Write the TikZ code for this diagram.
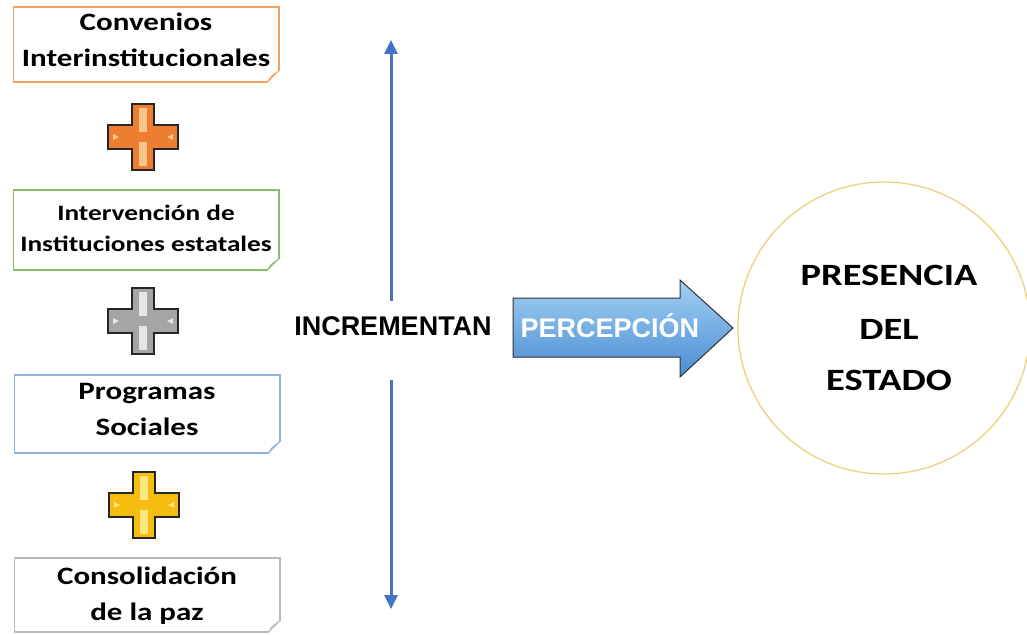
\documentclass[tikz,border=0pt]{standalone}
\usepackage{fontspec}
\setmainfont[FakeStretch=1.24]{Carlito}
\newfontfamily\arialb{Liberation Sans}
\usetikzlibrary{arrows.meta,calc}
\definecolor{cOrange}{HTML}{ED7D31}
\definecolor{cOrangeL}{HTML}{FAC58A}
\definecolor{cGray}{HTML}{A5A5A5}
\definecolor{cGrayL}{HTML}{E6E6E6}
\definecolor{cYellow}{HTML}{F5BD10}
\definecolor{cYellowL}{HTML}{FFE680}
\definecolor{bOrange}{HTML}{F4A061}
\definecolor{bGreen}{HTML}{8DBB6A}
\definecolor{bBlue}{HTML}{8CB3DE}
\definecolor{bGray}{HTML}{B8B8B8}
\definecolor{vBlue}{HTML}{4472C4}
\definecolor{circY}{HTML}{E8D37C}
\definecolor{arrTop}{HTML}{A3D0F3}
\definecolor{arrBot}{HTML}{4A8CD2}
\tikzset{
  itembox/.style={draw=#1, line width=1.1pt, fill=white, minimum width=265pt, inner sep=0pt},
  boxtext/.style={align=center, inner sep=0pt, font=\fontsize{25}{36}\selectfont\bfseries, text=black},
  boxtextsmall/.style={boxtext, font=\fontsize{22}{31}\selectfont\bfseries},
  varrow/.style={draw=vBlue, line width=3pt, -{Triangle[width=13pt,length=14pt]}},
  bigword/.style={font=\arialb\fontsize{27}{30}\selectfont\bfseries},
}
\newcommand\foldcorner[2]{%
  \fill[white] ($(#1.south east)+(1,1)$) -- ($(#1.south east)+(-13,1)$) -- ($(#1.south east)+(1,-13)$) -- cycle;
  \draw[#2, line width=1.1pt] ($(#1.south west)$) -- ($(#1.south east)+(-12,0)$);
  \draw[#2, line width=1.1pt] ($(#1.north east)$) -- ($(#1.south east)+(0,-12)$);
  \filldraw[draw=#2, fill=#2!40, line width=0.8pt] ($(#1.south east)+(-12,0)$) -- ($(#1.south east)+(0,-12)$)
     -- ($(#1.south east)+(-8,-6)$) -- cycle;}
\newcommand\plusmark[4]{% x, y, main, light
  \begin{scope}[shift={(#1,#2)}]
  \filldraw[draw=black!85, line width=1.2pt, fill=#3]
    (-11,-33) -- (11,-33) -- (11,-12) -- (35,-12) -- (35,12) -- (11,12) -- (11,33) -- (-11,33)
    -- (-11,12) -- (-35,12) -- (-35,-12) -- (-11,-12) -- cycle;
  \fill[#4] (-4,-29) rectangle (4,-5);
  \fill[#4] (-4,5) rectangle (4,29);
  \fill[#4] (-30,-3) -- (-24,0) -- (-30,3) -- cycle;
  \fill[#4] (30,-3) -- (24,0) -- (30,3) -- cycle;
  \end{scope}}
\begin{document}
\begin{tikzpicture}[x=1pt,y=-1pt]
\useasboundingbox (0,0) rectangle (1027,634);
\fill[white] (0,0) rectangle (1027,634);

% boxes
\node[itembox=bOrange, minimum height=75pt] (b1) at (146,44.5) {};
\foldcorner{b1}{bOrange}
\node[boxtext] (t1) at (146,40) {Convenios\\Interinstitucionales};
\node[itembox=bGreen, minimum height=80pt] (b2) at (146,230) {};
\foldcorner{b2}{bGreen}
\node[boxtextsmall] (t2) at (146,228) {Intervención de\\Instituciones estatales};
\node[itembox=bBlue, minimum height=78pt] (b3) at (147,414) {};
\foldcorner{b3}{bBlue}
\node[boxtext] (t3) at (147,409) {Programas\\Sociales};
\node[itembox=bGray, minimum height=74pt] (b4) at (147,595) {};
\foldcorner{b4}{bGray}
\node[boxtext] (t4) at (147,596) {Consolidación\\de la paz};

% plus signs
\plusmark{143}{137}{cOrange}{cOrangeL}
\plusmark{143}{321}{cGray}{cGrayL}
\plusmark{144}{505}{cYellow}{cYellowL}

% central label and vertical arrows
\node[bigword, text=black] (inc) at (393,326) {INCREMENTAN};
\coordinate (vtop) at (391,40);
\coordinate (vbot) at (391,609);
\draw[varrow] ($(inc.north)+(-2,-12)$) -- (vtop);
\draw[varrow] ($(inc.south)+(-2,41)$) -- (vbot);

% PERCEPCION arrow
\filldraw[draw=black!80, line width=1pt, top color=arrTop, bottom color=arrBot]
  (513,298) -- (680,298) -- (680,280) -- (733,328) -- (680,377) -- (680,357) -- (513,357) -- cycle;
\node[bigword, text=white, anchor=west] (perc) at (517,326) {PERCEPCIÓN};

% circle
\node[draw=circY, line width=1.3pt, circle, minimum size=292pt, inner sep=0pt] (pres) at (884,328) {};
\node[font=\fontsize{31}{55}\selectfont\bfseries, align=center] (prestext) at (889,328)
  {PRESENCIA\\[-1pt]DEL\\[-4pt]ESTADO};
\end{tikzpicture}
\end{document}
